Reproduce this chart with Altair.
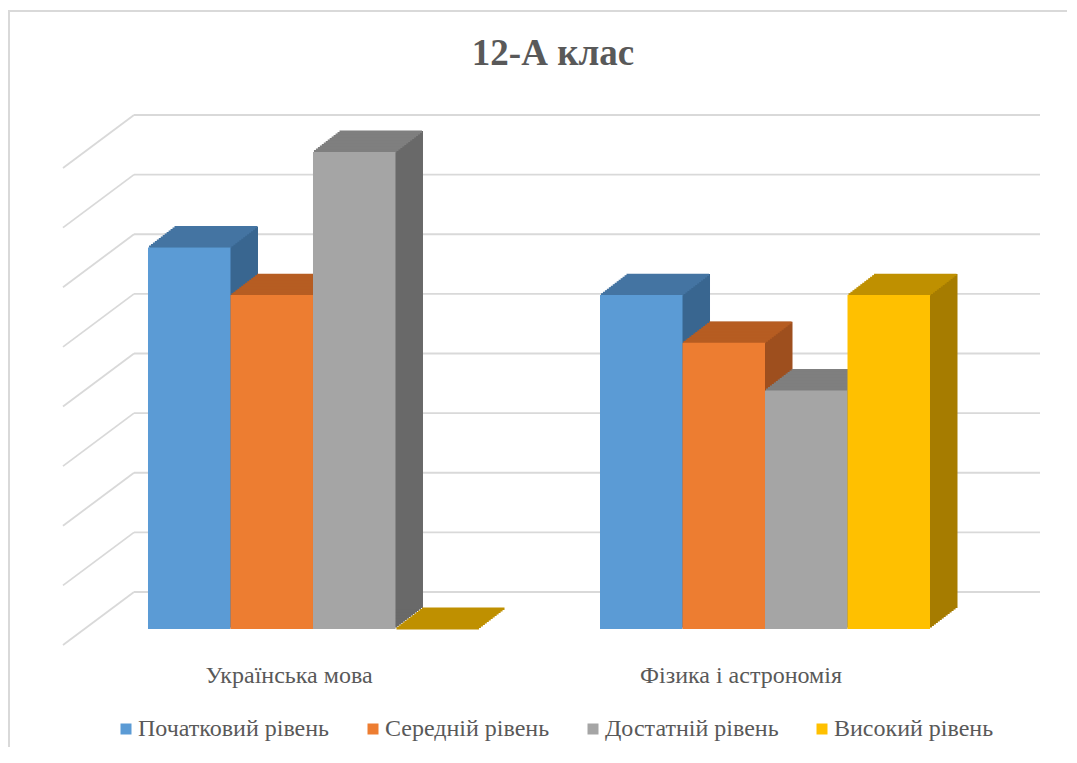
import altair as alt
import pandas as pd

title_text = "12-А клас"
categories = ["Українська мова", "Фізика і астрономія"]
series = ["Початковий рівень", "Середній рівень", "Достатній рівень", "Високий рівень"]
values_ukr = [32, 28, 40, 0]
values_phys = [28, 24, 20, 28]
front_colors = ["#5B9BD5", "#ED7D31", "#A5A5A5", "#FFC000"]
top_colors = ["#4474A2", "#B65D22", "#7F7F7F", "#BF9000"]
side_colors = ["#396690", "#9E4F1E", "#696969", "#A67C00"]
grid_values = [0, 5, 10, 15, 20, 25, 30, 35, 40]

rows = []
for cat, vals in zip(categories, [values_ukr, values_phys]):
    for s, v, f, t, sd in zip(series, vals, front_colors, top_colors, side_colors):
        rows.append({"category": cat, "series": s, "value": v, "front": f, "top": t, "side": sd})
df = pd.DataFrame(rows)
grid_df = pd.DataFrame({"v": grid_values})

W, H = 958, 477
DX, DY = 27.5, 21.0
N = 14
BAR_W = 82.5
GRID = "#D9D9D9"
TXT = "#595959"
FONT = "Liberation Serif"

x_enc = alt.X("category:N", sort=categories,
              scale=alt.Scale(paddingInner=0.27, paddingOuter=0.1947),
              axis=alt.Axis(title=None, ticks=False, domain=False, labelAngle=0,
                            labelFont=FONT, labelFontSize=24, labelColor=TXT,
                            labelOffset=-24, labelPadding=34, labelLimit=0, grid=False))
y_scale = alt.Scale(domain=[0, 40], nice=False, zero=True)
y_enc = alt.Y("value:Q", scale=y_scale, axis=None)
color_enc = alt.Color("series:N", sort=series,
                      scale=alt.Scale(domain=series, range=front_colors),
                      legend=alt.Legend(title=None, orient="none", direction="horizontal",
                                        legendX=54, legendY=565, padding=0,
                                        symbolType="square", symbolSize=121, symbolStrokeWidth=0,
                                        symbolOpacity=1,
                                        labelFont=FONT, labelFontSize=24, labelColor=TXT,
                                        labelOffset=0, columnPadding=31, labelLimit=0))

base = alt.Chart(df)

layers = []
# chart-area border
layers.append(alt.Chart(grid_df).mark_rect(fill=None, stroke=GRID, strokeWidth=1.5).encode(
    x=alt.value(-51), x2=alt.value(1100), y=alt.value(-141), y2=alt.value(700)))
# back wall gridlines
layers.append(alt.Chart(grid_df).mark_rule(color=GRID, strokeWidth=1.8, yOffset=-37).encode(
    y=alt.Y("v:Q", scale=y_scale, axis=None), x=alt.value(74), x2=alt.value(980)))
# side wall diagonals
layers.append(alt.Chart(grid_df).mark_rule(color=GRID, strokeWidth=1.8, yOffset=16, y2Offset=-37).encode(
    y=alt.Y("v:Q", scale=y_scale, axis=None), y2=alt.Y2("v"), x=alt.value(3), x2=alt.value(74)))

# draw each series as a 3-D box, left to right
for j, s in enumerate(series):
    sub = base.transform_filter(alt.datum.series == s)
    shift = (j - 1.5) * BAR_W
    for k in range(1, N + 1):
        layers.append(sub.mark_bar(strokeWidth=0, width=BAR_W,
                                   xOffset=shift + k * DX / N, yOffset=-k * DY / N).encode(
            x=x_enc, y=y_enc, fill=alt.Fill("side:N", scale=None, legend=None)))
    for k in range(N):
        layers.append(sub.mark_tick(strokeWidth=0, size=BAR_W, thickness=DY / N + 0.8, opacity=1,
                                    xOffset=shift + (k + 0.5) * DX / N,
                                    yOffset=-(k + 0.5) * DY / N).encode(
            x=x_enc, y=y_enc, fill=alt.Fill("top:N", scale=None, legend=None)))
    layers.append(sub.mark_bar(strokeWidth=0, width=BAR_W, xOffset=shift).encode(
        x=x_enc, y=y_enc, color=color_enc))

# title
layers.append(alt.Chart(grid_df.head(1)).mark_text(
    text=title_text, font=FONT, fontSize=37, fontWeight="bold", color=TXT,
    align="center", baseline="alphabetic").encode(x=alt.value(493), y=alt.value(-87)))

chart = alt.layer(*layers).properties(
    width=W, height=H,
    background="white",
    padding={"left": 52, "top": 144, "right": 49, "bottom": 118},
    autosize=alt.AutoSizeParams(type="none"),
).configure_view(stroke="transparent", strokeWidth=0)

chart.save("out.html", embed_options={"renderer": "svg", "actions": False})
